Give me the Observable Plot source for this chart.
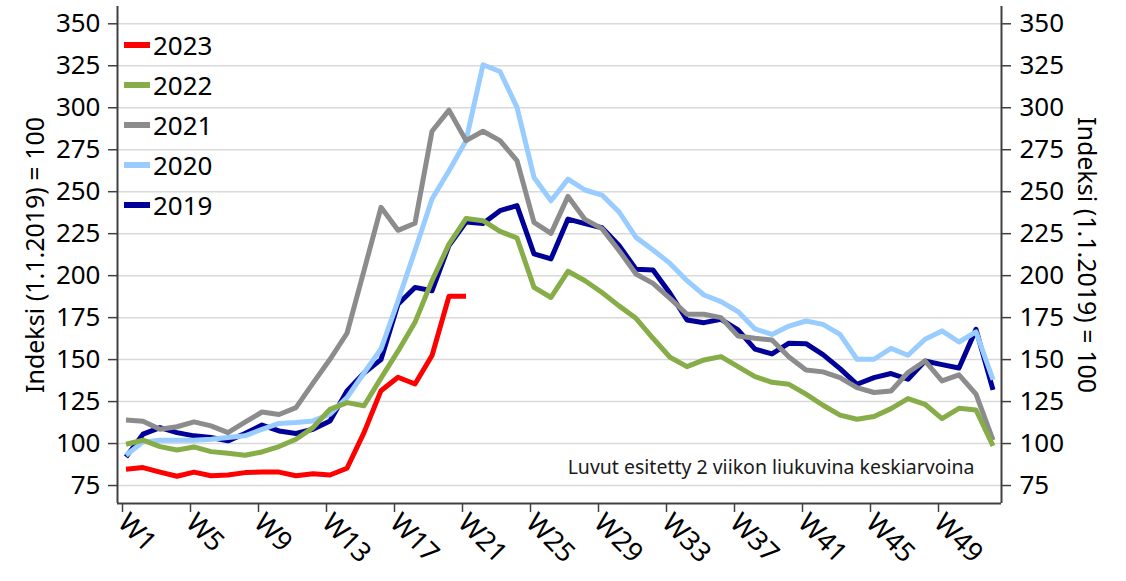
<!DOCTYPE html>
<html><head><meta charset="utf-8">
<script src="https://cdn.jsdelivr.net/npm/d3@7"></script>
<script src="https://cdn.jsdelivr.net/npm/@observablehq/plot@0.6"></script>
<style>
body{margin:0;background:#fff;font-family:"Noto Sans",sans-serif;}
#wrap{position:relative;width:1126px;height:581px;}
#legend{position:absolute;left:124px;top:25px;}
.item{display:flex;align-items:center;height:40px;}
.sw{width:26px;height:6px;margin-right:3px;}
.lab{font-size:26px;color:#000;line-height:1;font-family:"Noto Sans",sans-serif;}
</style></head><body><div id="wrap"><div id="legend"></div></div>
<script>
const years = ["2019","2020","2021","2022","2023"];
const colors = ["#000099","#99ccff","#8c8c8c","#86ad48","#ff0000"];
const v2019 = [92,105.6,109.5,106.5,104.6,103.6,101.6,106,111,107.5,106,108.5,113.5,131.3,142,150,183,193,191,218,232,231,238.7,241.7,213,210,233.7,231,228.5,218,203.8,203.4,189.5,173.6,172,174,167.7,156.2,153.4,159.8,159.5,153,144.6,135.3,139.3,141.7,138.3,149.2,147,145,168,132];
const v2020 = [93,101,102,102,102,102.6,103.6,104.6,108.5,112,112.5,113.5,117.5,127.4,142,156.3,185,215,245.6,262.5,280.4,325.6,321.6,300.2,258.5,244.6,257.5,251,248,238,222.8,215.3,207.3,197,188.5,184.5,178.6,168.3,165,170,173,171,165,150.2,150.2,156.7,152.6,162.1,167.1,160.5,166.5,138];
const v2021 = [114,113.3,108.5,110,112.9,110.5,106.5,112.7,118.8,117.3,121.4,136,150.2,165.7,203,240.7,227,231.2,286,298.6,280.4,286,280.4,268.5,231.7,225.2,247.2,233.5,228,215,201,195.4,186.5,177,177,175,164.1,162.7,161.7,151.5,143.8,142.7,139.3,133.3,130.4,131.3,142.3,149.2,137.3,140.9,129.4,102];
const v2022 = [99.6,102,98.2,96.2,98,95.2,94.2,93,95,98.2,102.6,109.5,120.4,124.4,122.5,139,155,172.2,197,218.8,234,232.7,226.4,222.4,193,187,202.6,197,190,182,174.6,162.7,151.4,145.8,149.8,151.8,145.8,139.9,136.5,135.3,129.4,122.8,116.9,114.5,116.1,120.8,126.8,123.4,114.9,121,120,98.6];
const v2023 = [84.7,85.7,83,80.5,83,80.8,81.3,82.7,83,83,80.8,82,81.3,85.3,106.5,131.5,139.5,135.5,152.4,187.7,187.7];
const series = [v2019, v2020, v2021, v2022, v2023];
const yTicks = [75,100,125,150,175,200,225,250,275,300,325,350];
const xTicks = [0.5,4.5,8.5,12.5,16.5,20.5,24.5,28.5,32.5,36.5,40.5,44.5,48.5];
const xTickLabels = ["W1","W5","W9","W13","W17","W21","W25","W29","W33","W37","W41","W45","W49"];
const yTitle = "Indeksi (1.1.2019) = 100";
const note = "Luvut esitetty 2 viikon liukuvina keskiarvoina";

const data = [];
series.forEach((vals, si) => vals.forEach((v, i) => data.push({year: years[si], week: i + 1, value: v})));

const chart = Plot.plot({
  width: 1126, height: 581,
  marginLeft: 117, marginRight: 125, marginTop: 6, marginBottom: 78,
  style: {fontFamily: "Noto Sans", fontSize: "26px", color: "#000", background: "#fff"},
  x: {domain: [0.5, 52.5]},
  y: {domain: [64.3, 360.3]},
  color: {domain: years, range: colors},
  marks: [
    Plot.gridY(yTicks, {stroke: "#d9d9d9", strokeOpacity: 1, strokeWidth: 1.5}),
    Plot.text([note], {frameAnchor: "bottom-right", dx: -27, dy: -30, textAnchor: "end", fontSize: 19.5, fill: "#1a1a1a"}),
    Plot.line(data, {x: "week", y: "value", z: "year", stroke: "year", strokeWidth: 5, strokeLinejoin: "round", strokeLinecap: "butt"}),
    Plot.ruleX([0.5, 52.5], {stroke: "#404040", strokeWidth: 2}),
    Plot.ruleY([64.3], {stroke: "#404040", strokeWidth: 2}),
    Plot.axisY(yTicks, {anchor: "left", tickSize: 9, tickPadding: 8, label: null, fontSize: 26, stroke: "#404040", strokeWidth: 1.5}),
    Plot.axisY(yTicks, {anchor: "right", tickSize: 9, tickPadding: 9, label: null, fontSize: 26, stroke: "#404040", strokeWidth: 1.5}),
    Plot.axisX(xTicks, {anchor: "bottom", tickSize: 9, tickPadding: 6, dx: 5, tickFormat: (d, i) => xTickLabels[i], tickRotate: 45, textAnchor: "start", label: null, fontSize: 27, stroke: "#404040", strokeWidth: 1.5}),
    Plot.text([yTitle], {frameAnchor: "left", rotate: -90, dx: -82, textAnchor: "middle", fontSize: 25, fill: "#000"}),
    Plot.text([yTitle], {frameAnchor: "right", rotate: 90, dx: 84, textAnchor: "middle", fontSize: 25, fill: "#000"})
  ]
});
const wrap = document.getElementById("wrap");
wrap.insertBefore(chart, wrap.firstChild);

const legend = document.getElementById("legend");
["2023","2022","2021","2020","2019"].forEach(y => {
  const item = document.createElement("div");
  item.className = "item";
  const sw = document.createElement("div");
  sw.className = "sw";
  sw.style.background = colors[years.indexOf(y)];
  const lab = document.createElement("span");
  lab.className = "lab";
  lab.textContent = y;
  item.appendChild(sw); item.appendChild(lab);
  legend.appendChild(item);
});
</script></body></html>
